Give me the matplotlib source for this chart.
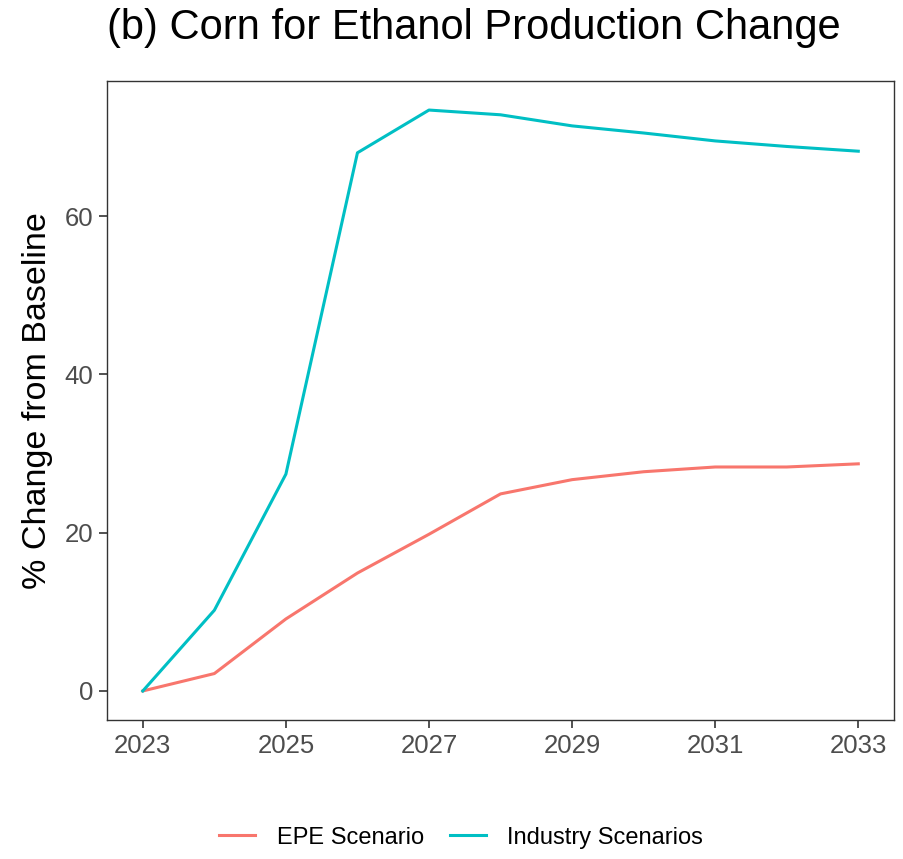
import matplotlib.pyplot as plt

plt.rcParams['font.family'] = ['Liberation Sans', 'DejaVu Sans']

years = [2023, 2024, 2025, 2026, 2027, 2028, 2029, 2030, 2031, 2032, 2033]
epe = [0.0, 2.2, 9.1, 14.9, 19.8, 24.9, 26.7, 27.7, 28.3, 28.3, 28.7]
industry = [0.0, 10.2, 27.4, 68.0, 73.4, 72.8, 71.4, 70.5, 69.5, 68.8, 68.2]

xticks = [2023, 2025, 2027, 2029, 2031, 2033]
yticks = [0, 20, 40, 60]

fig = plt.figure(figsize=(9.04, 8.59), dpi=100)
ax = fig.add_axes([0.1184, 0.1618, 0.8706, 0.7439])

ax.plot(years, epe, color='#F8766D', lw=2.2, label='EPE Scenario')
ax.plot(years, industry, color='#00BFC4', lw=2.2, label='Industry Scenarios')

ax.set_xlim(2022.5, 2033.5)
ax.set_ylim(-3.67, 77.07)
ax.set_xticks(xticks)
ax.set_yticks(yticks)

for s in ax.spines.values():
    s.set_color('#333333')
    s.set_linewidth(1.0)
ax.tick_params(colors='#333333', labelcolor='#4D4D4D', labelsize=18.5,
               length=6, width=1.2, pad=4)

ax.set_ylabel('% Change from Baseline', fontsize=24.5, labelpad=8)
fig.text(0.1184, 0.967, '(b) Corn for Ethanol Production Change',
         fontsize=30, ha='left', va='center')

fig.legend(loc='center', bbox_to_anchor=(0.51, 0.025), ncol=2, frameon=False,
           fontsize=17, handlelength=1.55, columnspacing=1.1, handletextpad=0.9)

fig.savefig('out.png', dpi=100)
